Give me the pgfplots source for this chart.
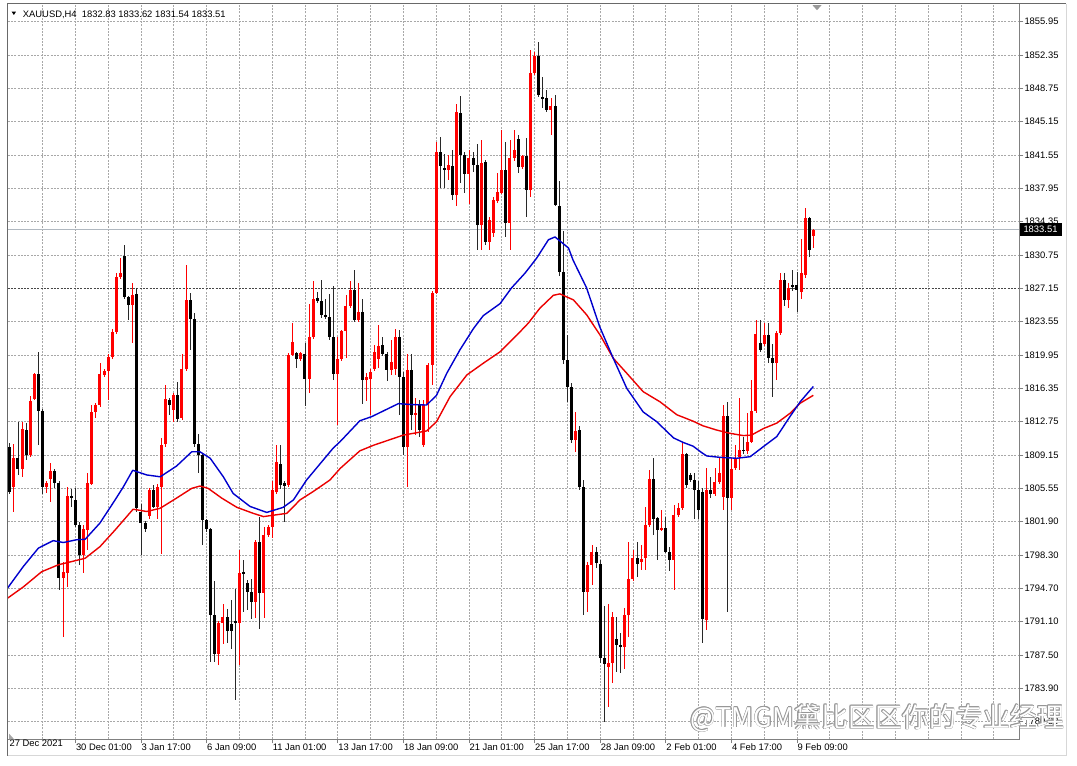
\documentclass[border=0pt]{standalone}
\usepackage{fontspec}
\setmainfont{Liberation Sans}
\newfontfamily\cjk{Noto Sans CJK SC}
\usepackage{pgfplots}
\usepackage{pgfplotstable}
\pgfplotsset{compat=1.18}
\definecolor{gridc}{RGB}{168,168,168}
\definecolor{dkgrid}{RGB}{70,70,70}
\definecolor{axgray}{RGB}{128,128,128}
\definecolor{framec}{RGB}{105,105,105}
\definecolor{outerc}{RGB}{215,215,215}
\definecolor{maBlue}{RGB}{0,0,205}
\definecolor{maRed}{RGB}{235,0,0}
\definecolor{cRed}{RGB}{255,0,0}
\definecolor{cWick}{RGB}{40,40,40}
\definecolor{priceLine}{RGB}{176,184,192}
\definecolor{wmgray}{RGB}{150,150,150}

\pgfplotstableread{
i o h l c
1 1805.7 1810.4 1803.0 1808.8
3 1807.7 1812.75 1806.8 1811.95
5 1809.15 1815.5 1809.0 1815.0
6 1815.2 1818.0 1815.1 1817.9
9 1805.7 1806.3 1805.0 1806.1
10 1806.6 1808.3 1804.1 1807.4
13 1795.85 1797.6 1789.5 1796.5
14 1796.4 1805.7 1794.95 1804.7
18 1798.35 1801.6 1796.4 1801.2
19 1801.05 1807.2 1798.9 1806.1
20 1806.0 1814.6 1805.9 1813.8
21 1813.8 1814.8 1813.2 1814.6
22 1814.6 1819.05 1814.3 1817.95
23 1817.8 1818.4 1817.6 1818.2
24 1818.2 1820.1 1815.1 1819.7
25 1819.7 1822.8 1819.5 1822.4
26 1822.4 1828.8 1822.2 1828.4
27 1828.4 1830.4 1828.2 1828.8
30 1825.35 1827.7 1821.2 1826.5
34 1802.6 1805.6 1802.3 1805.4
36 1803.6 1806.0 1802.3 1805.7
37 1805.7 1810.95 1798.5 1810.2
38 1810.3 1816.7 1810.0 1815.2
40 1814.0 1815.8 1812.75 1815.6
42 1813.1 1820.1 1812.9 1818.4
43 1818.4 1829.7 1818.2 1825.9
51 1787.7 1791.2 1786.5 1791.0
52 1791.0 1793.1 1788.8 1791.7
56 1791.0 1798.9 1786.5 1796.4
60 1793.3 1800.0 1791.5 1799.8
62 1794.2 1801.4 1791.5 1800.5
63 1800.5 1801.6 1800.3 1801.4
64 1801.4 1806.4 1800.15 1805.4
65 1805.2 1810.2 1805.0 1808.4
68 1805.9 1820.2 1805.7 1820.0
69 1820.0 1823.4 1819.8 1821.4
71 1819.5 1820.3 1819.3 1820.15
73 1817.4 1825.5 1815.9 1821.9
74 1821.9 1827.9 1821.7 1826.0
80 1817.9 1821.9 1812.4 1819.5
81 1819.5 1822.7 1819.3 1822.5
82 1822.5 1826.4 1819.6 1825.2
83 1825.2 1828.0 1825.0 1826.97
85 1823.7 1827.7 1823.5 1824.6
87 1817.25 1818.0 1815.0 1817.6
88 1817.4 1818.4 1813.5 1818.15
89 1818.4 1821.0 1818.2 1820.3
90 1819.5 1823.2 1818.5 1820.9
93 1818.3 1821.6 1817.8 1819.2
94 1818.5 1822.8 1817.8 1821.9
97 1810.05 1820.1 1805.7 1818.3
99 1813.5 1815.3 1811.3 1813.7
101 1810.2 1815.1 1810.0 1814.55
102 1814.55 1819.1 1811.6 1818.9
103 1818.9 1826.9 1816.7 1826.7
104 1826.7 1843.0 1826.5 1841.9
107 1839.95 1841.55 1838.85 1840.5
109 1837.2 1847.1 1836.0 1846.2
112 1839.5 1842.1 1836.3 1841.2
115 1834.0 1843.2 1831.3 1840.7
117 1832.2 1834.9 1831.3 1834.5
118 1833.1 1837.0 1832.7 1836.7
119 1836.6 1839.6 1836.4 1837.6
120 1837.5 1844.25 1837.3 1839.9
122 1834.2 1843.2 1831.3 1841.2
123 1841.2 1844.25 1840.9 1842.1
125 1840.3 1841.6 1840.1 1841.4
127 1837.8 1852.9 1837.05 1850.4
128 1850.4 1852.7 1850.2 1852.2
132 1846.4 1847.7 1843.7 1846.85
138 1810.8 1813.8 1809.5 1811.75
141 1794.4 1797.6 1792.2 1797.3
142 1797.3 1799.4 1795.1 1798.7
146 1786.3 1793.1 1782.0 1786.7
147 1786.7 1792.2 1784.5 1791.7
150 1788.45 1792.6 1786.1 1791.9
151 1791.9 1799.8 1789.5 1795.8
152 1795.8 1798.9 1795.6 1798.0
154 1797.6 1799.4 1796.7 1797.9
155 1798.0 1803.6 1796.7 1801.6
156 1801.6 1807.5 1801.4 1806.6
159 1801.1 1803.2 1800.9 1801.3
162 1797.8 1803.75 1794.6 1802.7
163 1802.7 1804.0 1802.5 1803.4
164 1803.4 1810.4 1803.2 1809.3
170 1791.3 1807.7 1790.25 1805.4
172 1804.9 1807.7 1804.7 1806.2
173 1806.2 1808.8 1806.0 1807.2
174 1804.6 1814.6 1803.2 1813.4
176 1804.5 1808.8 1803.2 1807.7
177 1807.7 1810.2 1807.5 1808.7
178 1809.0 1815.3 1807.5 1809.7
180 1809.6 1813.65 1809.3 1810.6
181 1810.6 1817.25 1810.5 1813.9
182 1813.9 1823.7 1813.7 1822.2
184 1821.2 1823.4 1820.9 1822.1
187 1819.05 1822.5 1817.25 1822.3
188 1822.3 1828.8 1822.1 1828.1
190 1825.9 1827.7 1825.0 1827.15
193 1826.8 1832.5 1826.0 1828.8
194 1828.6 1835.8 1828.3 1834.7
196 1832.83 1833.62 1831.54 1833.51
}\redc

\pgfplotstableread{
i o h l c
0 1810.0 1810.4 1804.9 1805.2
2 1808.8 1812.75 1807.0 1807.7
4 1811.85 1812.6 1808.6 1809.15
7 1817.9 1820.3 1810.2 1813.9
8 1813.9 1814.1 1805.0 1805.7
11 1807.4 1807.7 1805.6 1806.1
12 1806.1 1806.3 1794.6 1795.85
15 1804.7 1805.5 1803.5 1804.5
16 1804.3 1805.55 1801.4 1801.6
17 1801.6 1801.9 1797.3 1798.35
28 1830.6 1831.8 1826.0 1826.2
29 1826.2 1826.3 1823.7 1825.35
31 1826.5 1827.15 1803.0 1803.4
32 1803.0 1803.9 1798.35 1801.8
33 1801.8 1802.0 1800.9 1801.2
35 1805.4 1805.9 1803.4 1803.6
39 1815.1 1815.3 1813.5 1814.55
41 1815.6 1817.1 1812.75 1813.0
44 1825.9 1826.6 1820.5 1823.8
45 1823.8 1824.45 1810.0 1810.3
46 1810.3 1811.4 1807.2 1809.15
47 1809.15 1809.3 1799.4 1802.1
48 1802.1 1802.3 1800.8 1801.2
49 1801.2 1801.3 1786.85 1791.9
50 1791.9 1795.5 1786.85 1787.7
53 1791.7 1792.5 1788.8 1790.1
54 1790.9 1793.5 1788.2 1790.1
55 1791.2 1794.75 1782.7 1791.0
57 1796.5 1797.8 1792.2 1796.4
58 1795.3 1795.65 1792.4 1794.4
59 1794.4 1795.8 1791.5 1793.3
61 1799.8 1802.5 1790.4 1794.2
66 1808.2 1810.2 1805.5 1805.9
67 1806.1 1806.3 1801.95 1805.85
70 1820.2 1820.3 1818.5 1819.5
72 1820.1 1821.2 1814.4 1817.4
75 1826.1 1826.8 1825.6 1825.8
76 1825.8 1828.1 1824.0 1824.3
77 1824.3 1826.0 1823.8 1824.1
78 1824.1 1826.5 1821.6 1821.9
79 1821.9 1827.4 1817.2 1817.9
84 1826.97 1829.1 1823.5 1823.7
86 1824.6 1825.96 1814.7 1817.25
91 1821.0 1821.9 1819.9 1820.1
92 1820.1 1820.3 1817.2 1818.3
95 1821.9 1822.65 1813.5 1817.6
96 1817.6 1818.1 1809.15 1810.05
98 1818.3 1820.1 1811.85 1813.5
100 1814.55 1815.1 1811.1 1811.85
105 1841.9 1843.5 1837.95 1840.4
106 1840.2 1841.7 1837.95 1840.0
108 1840.4 1842.1 1836.7 1837.2
110 1846.1 1847.9 1838.5 1841.55
111 1841.55 1841.9 1837.4 1839.5
113 1841.2 1841.9 1839.75 1840.5
114 1840.5 1842.8 1831.3 1834.0
116 1840.8 1841.0 1831.8 1832.2
121 1839.9 1843.0 1832.7 1834.2
124 1843.25 1843.7 1839.6 1840.3
126 1841.4 1843.4 1834.9 1837.8
129 1852.2 1853.8 1847.8 1848.0
130 1847.85 1850.0 1846.6 1847.6
131 1847.7 1848.6 1846.2 1846.4
133 1846.85 1848.0 1836.0 1836.15
134 1836.1 1838.7 1828.5 1828.95
135 1828.95 1833.3 1819.0 1819.4
136 1819.4 1822.1 1814.9 1816.5
137 1816.5 1816.9 1810.5 1810.8
139 1811.9 1812.3 1805.4 1805.7
140 1805.7 1806.4 1791.9 1794.4
143 1798.7 1799.2 1797.0 1797.45
144 1797.45 1797.8 1786.65 1787.2
145 1787.2 1792.8 1780.35 1786.65
148 1789.3 1791.7 1785.75 1788.6
149 1788.6 1789.9 1785.6 1788.45
153 1798.0 1799.8 1796.0 1797.4
157 1806.6 1808.8 1800.5 1802.3
158 1802.3 1802.5 1797.8 1801.05
160 1801.3 1802.5 1798.6 1798.7
161 1798.7 1799.2 1796.6 1797.8
165 1809.3 1809.4 1805.6 1805.9
166 1807.0 1807.2 1806.2 1806.5
167 1806.5 1807.2 1802.2 1805.4
168 1805.4 1806.4 1802.2 1803.2
169 1805.2 1805.6 1788.8 1791.5
171 1805.4 1806.8 1804.5 1804.9
175 1813.4 1814.9 1792.2 1804.5
179 1809.7 1811.1 1809.3 1809.6
183 1821.2 1823.7 1820.3 1820.5
185 1822.1 1823.4 1819.05 1819.6
186 1819.6 1821.2 1815.45 1819.05
189 1828.1 1828.8 1825.2 1825.9
191 1827.5 1829.1 1826.9 1827.3
192 1827.5 1828.95 1824.6 1826.97
195 1834.7 1834.9 1830.5 1831.3
}\blackc

\pgfplotstableread{
i v
-0.49 1794.8
3.3 1797.1
7.0 1799.1
10.6 1799.9
13.1 1799.7
16.3 1800.0
18.4 1800.05
22.0 1801.8
25.7 1804.3
27.7 1805.7
30.0 1807.5
33.4 1807.0
36.7 1806.8
40.7 1807.96
44.4 1809.5
46.4 1809.5
48.9 1808.8
52.1 1806.8
54.5 1805.0
58.6 1803.6
62.7 1802.95
66.7 1803.5
69.2 1804.3
72.4 1806.45
78.9 1809.9
80.6 1810.6
85.4 1812.85
88.3 1813.3
94.8 1814.7
98.0 1814.6
101.7 1814.55
104.1 1815.6
106.6 1817.98
109.8 1820.5
113.1 1822.8
115.5 1824.2
119.6 1825.5
122.4 1827.2
125.7 1828.8
128.5 1830.4
131.4 1832.4
133.0 1832.7
136.3 1831.5
137.4 1830.2
140.7 1827.2
143.9 1823.0
147.2 1819.6
150.5 1816.35
154.5 1813.8
157.8 1812.75
161.9 1811.0
164.3 1810.5
166.7 1810.1
168.8 1809.4
170.0 1809.05
173.2 1808.9
177.3 1808.8
180.6 1808.97
183.8 1810.05
187.1 1811.15
190.3 1813.3
192.8 1814.9
196.0 1816.55
}\mablue

\pgfplotstableread{
i v
-0.49 1793.7
3.3 1794.9
7.8 1796.55
11.9 1797.3
14.7 1797.6
18.4 1798.0
22.0 1799.25
25.7 1801.05
30.1 1803.3
33.4 1803.05
36.7 1803.4
40.7 1804.5
44.4 1805.55
46.4 1805.8
48.4 1805.55
51.7 1804.5
55.4 1803.5
59.4 1802.85
61.9 1802.5
65.1 1802.7
67.6 1802.85
70.8 1804.3
74.0 1805.2
78.1 1806.45
80.6 1807.7
85.4 1809.6
88.7 1810.2
96.0 1811.3
101.7 1811.75
104.1 1812.75
107.4 1815.45
111.5 1817.8
115.5 1819.06
119.6 1820.3
123.7 1822.1
126.5 1823.4
129.3 1825.0
132.6 1826.4
134.2 1826.55
137.5 1825.9
140.7 1824.3
144.0 1822.1
147.2 1819.6
150.5 1817.98
154.5 1815.99
158.6 1814.9
162.7 1813.5
166.7 1812.8
169.1 1812.3
172.4 1811.85
175.6 1811.5
178.9 1811.25
180.9 1811.3
183.8 1812.0
187.1 1812.6
190.3 1813.65
192.8 1814.75
196.0 1815.6
}\mared

\begin{document}
\begin{tikzpicture}
\begin{axis}[
  scale only axis, width=1011.6pt, height=735.6pt,
  xmin=-0.49, xmax=246.24, ymin=1778.45, ymax=1857.89,
  axis line style={draw=axgray, line width=0.8pt},
  tick label style={font=\fontsize{9.4}{11}\selectfont, text=black},
  xtick pos=bottom, ytick pos=right, yticklabel pos=right,
  tick align=outside, major tick length=4pt,
  tick style={draw=axgray, line width=0.8pt},
  xtick={16,32,...,192},
  xticklabels={30 Dec 01:00, 3 Jan 17:00, 6 Jan 09:00, 11 Jan 01:00, 13 Jan 17:00, 18 Jan 09:00, 21 Jan 01:00, 25 Jan 17:00, 28 Jan 09:00, 2 Feb 01:00, 4 Feb 17:00, 9 Feb 09:00},
  extra x ticks={-0.2}, extra x tick labels={27 Dec 2021},
  extra x tick style={grid=none, major tick length=0pt},
  xticklabel style={anchor=north west, inner sep=0pt, xshift=0.5pt},
  minor xtick={8,16,...,240}, minor tick length=0pt,
  xmajorgrids=false, xminorgrids=true, ymajorgrids=true,
  major grid style={gridc, dash pattern=on 2pt off 1.3pt, line width=0.7pt},
  minor grid style={gridc, dash pattern=on 2pt off 1.3pt, line width=0.7pt},
  ytick={1780.35,1783.95,1787.55,1791.15,1794.75,1798.35,1801.95,1805.55,1809.15,1812.75,1816.35,1819.95,1823.55,1827.15,1830.75,1834.35,1837.95,1841.55,1845.15,1848.75,1852.35,1855.95},
  yticklabels={1780.30,1783.90,1787.50,1791.10,1794.70,1798.30,1801.90,1805.55,1809.15,1812.75,1816.35,1819.95,1823.55,1827.15,1830.75,1834.35,1837.95,1841.55,1845.15,1848.75,1852.35,1855.95},
  yticklabel style={anchor=west, inner sep=0pt, xshift=1pt},
]
% horizontal reference lines
\addplot[dkgrid, dash pattern=on 2pt off 1.3pt, line width=0.7pt, forget plot] coordinates {(-0.49,1827.15) (246.24,1827.15)};
\addplot[priceLine, line width=0.9pt, forget plot] coordinates {(-0.49,1833.51) (246.24,1833.51)};
% wicks
\addplot[draw=none, mark=none, forget plot,
  error bars/.cd, y dir=both, y explicit, error mark=none,
  error bar style={draw=cRed, line width=0.8pt}]
  table[x=i, y expr={(\thisrow{h}+\thisrow{l})/2}, y error expr={(\thisrow{h}-\thisrow{l})/2}] {\redc};
\addplot[draw=none, mark=none, forget plot,
  error bars/.cd, y dir=both, y explicit, error mark=none,
  error bar style={draw=cWick, line width=0.8pt}]
  table[x=i, y expr={(\thisrow{h}+\thisrow{l})/2}, y error expr={(\thisrow{h}-\thisrow{l})/2}] {\blackc};
% bodies
\addplot[draw=none, mark=none, forget plot,
  error bars/.cd, y dir=both, y explicit, error mark=none,
  error bar style={draw=cRed, line width=3pt, line cap=butt}]
  table[x=i, y expr={(\thisrow{o}+\thisrow{c})/2}, y error expr={max(abs(\thisrow{c}-\thisrow{o})/2,0.055)}] {\redc};
\addplot[draw=none, mark=none, forget plot,
  error bars/.cd, y dir=both, y explicit, error mark=none,
  error bar style={draw=black, line width=3pt, line cap=butt}]
  table[x=i, y expr={(\thisrow{o}+\thisrow{c})/2}, y error expr={max(abs(\thisrow{c}-\thisrow{o})/2,0.055)}] {\blackc};
% moving averages
\addplot[maRed, line width=1.4pt, line join=round, mark=none] table[x=i, y=v] {\mared};
\addplot[maBlue, line width=1.4pt, line join=round, mark=none] table[x=i, y=v] {\mablue};
\coordinate (pl) at (axis cs:246.24,1833.51);
\coordinate (shiftm) at (axis cs:196.9,1857.89);
\end{axis}
% window frame
\draw[framec, line width=1pt] ([yshift=-16.7pt]current axis.south west) -- (current axis.north west);
\draw[framec, line width=1.6pt] ([xshift=-0.5pt]current axis.north west) -- ([xshift=47pt]current axis.north east);
\draw[outerc, line width=1pt] ([xshift=47pt]current axis.north east) -- ([xshift=47pt,yshift=-16.7pt]current axis.south east);
\draw[outerc, line width=1pt] ([yshift=-16.7pt]current axis.south west) -- ([xshift=47pt,yshift=-16.7pt]current axis.south east);
% title
\fill[black] ([shift={(4pt,-8pt)}]current axis.north west) -- ([shift={(8.3pt,-8pt)}]current axis.north west) -- ([shift={(6.15pt,-11.3pt)}]current axis.north west) -- cycle;
\node[anchor=base west, inner sep=0pt, font=\fontsize{9.4}{11}\selectfont] at ([shift={(15pt,-13.6pt)}]current axis.north west) {XAUUSD,H4\ \ 1832.83 1833.62 1831.54 1833.51};
% chart shift marker
\fill[gray!80] ([shift={(-4.5pt,-1.5pt)}]shiftm) -- ([shift={(4.5pt,-1.5pt)}]shiftm) -- ([shift={(0pt,-6.5pt)}]shiftm) -- cycle;
% corner marker
\fill[gray!70] ([shift={(1.5pt,0pt)}]current axis.south west) -- ([shift={(6.5pt,0pt)}]current axis.south west) -- ([shift={(1.5pt,5.5pt)}]current axis.south west) -- cycle;
% price label
\node[anchor=west, fill=black, text=white, inner sep=0pt, minimum height=13.5pt, minimum width=42pt, font=\fontsize{9.4}{11}\selectfont] at (pl) {1833.51};
% watermark
\def\wm{{\cjk\fontsize{27}{30}\selectfont @TMGM黛比区区你的专业经理}}
\coordinate (wm) at ([shift={(682.3pt,21.3pt)}]current axis.south west);
\foreach \dx/\dy in {0.6/0,-0.6/0,0/0.6,0/-0.6,0.42/0.42,-0.42/0.42,0.42/-0.42,-0.42/-0.42}
  \node[anchor=west, inner sep=0pt, text=wmgray] at ([shift={(\dx pt,\dy pt)}]wm) {\wm};
\node[anchor=west, inner sep=0pt, text=white] at (wm) {\wm};
% bounding box = full window
\pgfresetboundingbox
\path[use as bounding box] ([shift={(-7.7pt,-26.7pt)}]current axis.south west) rectangle ([shift={(57.7pt,3.7pt)}]current axis.north east);
\end{tikzpicture}
\end{document}
